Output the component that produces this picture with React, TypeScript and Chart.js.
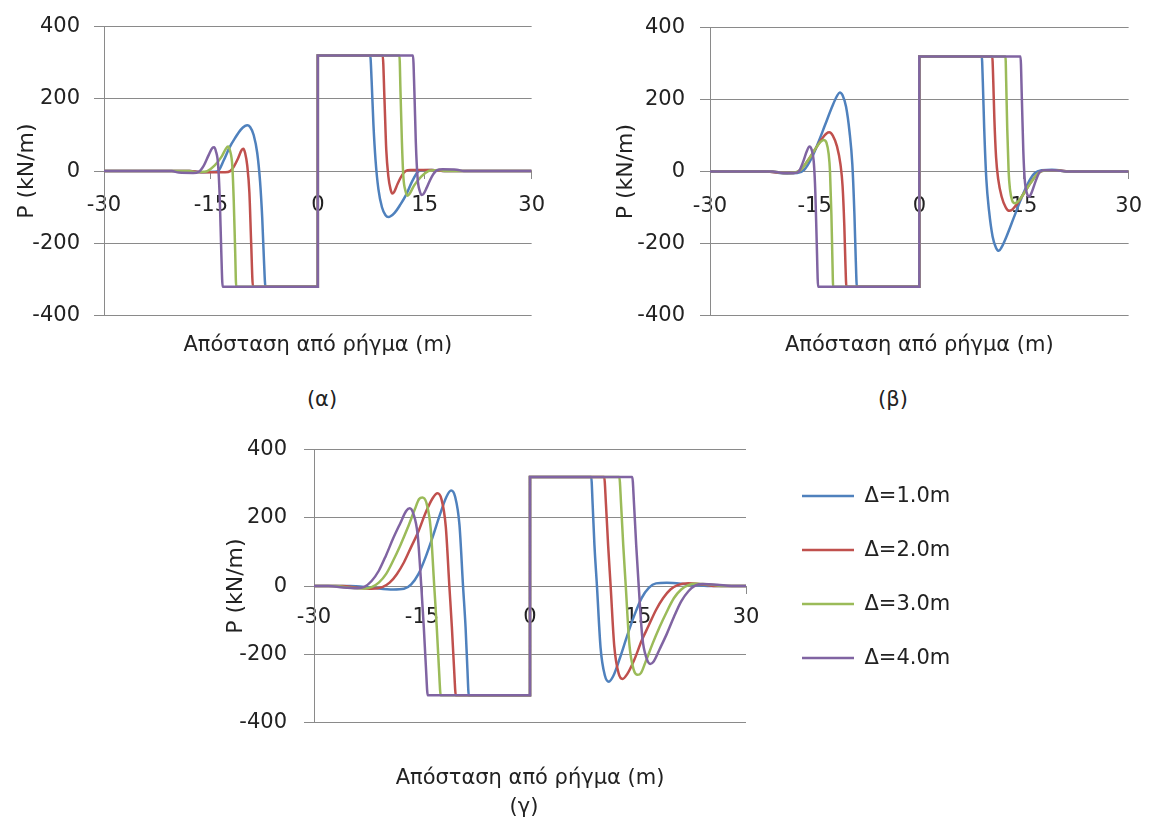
import React, { useEffect, useRef } from 'react';
import { Chart, registerables } from 'chart.js';

Chart.register(...registerables);
Chart.defaults.font.family = "'DejaVu Sans', sans-serif";
Chart.defaults.color = '#222';

type Pt = [number, number];

const seriesLabels = ['Δ=1.0m', 'Δ=2.0m', 'Δ=3.0m', 'Δ=4.0m'];
const seriesColors = ['#4F81BD', '#C0504D', '#9BBB59', '#8064A2'];
const xTicks = [-30, -15, 0, 15, 30];
const yTicks = [-400, -200, 0, 200, 400];
const xTitle = 'Απόσταση από ρήγμα (m)';
const yTitle = 'P (kN/m)';
const captions = ['(α)', '(β)', '(γ)'];

// ---- (α) ----
const a1: Pt[] = [[-30,0],[-18,0],[-16,-3],[-14.5,-2],[-14,0],[-13.2,30],[-12.4,65],[-11.6,92],[-10.8,115],[-10.2,125],[-9.9,127],[-9.5,122],[-9,100],[-8.5,50],[-8.1,-30],[-7.8,-130],[-7.55,-250],[-7.35,-320],[0,-320],[0,320],[7.35,320],[7.55,250],[7.8,130],[8.1,30],[8.5,-50],[9,-100],[9.5,-122],[9.9,-127],[10.2,-125],[10.8,-115],[11.6,-92],[12.4,-65],[13.2,-30],[14,-3],[14.5,2],[16,3],[18,0],[30,0]];
const a2: Pt[] = [[-30,0],[-18,0],[-16,-3],[-13,-3],[-12.3,0],[-11.8,12],[-11.2,35],[-10.7,58],[-10.45,62],[-10.2,50],[-9.9,15],[-9.6,-60],[-9.35,-200],[-9.1,-320],[0,-320],[0,320],[9.1,320],[9.35,200],[9.6,60],[9.9,-15],[10.2,-50],[10.45,-62],[10.7,-58],[11.2,-35],[11.8,-12],[12.3,0],[13,3],[16,3],[18,0],[30,0]];
const a3: Pt[] = [[-30,0],[-18,0],[-17,-3],[-16,-2],[-15.5,0],[-14.5,15],[-13.5,40],[-12.9,62],[-12.6,68],[-12.3,55],[-12,15],[-11.8,-80],[-11.6,-220],[-11.45,-320],[0,-320],[0,320],[11.45,320],[11.6,220],[11.8,80],[12,-15],[12.3,-55],[12.6,-68],[12.9,-62],[13.5,-40],[14.5,-15],[15.5,0],[16,2],[17,3],[18,0],[30,0]];
const a4: Pt[] = [[-30,0],[-20.5,0],[-19.5,-4],[-17.5,-5],[-16.7,-2],[-16,15],[-15.3,45],[-14.8,64],[-14.55,66],[-14.3,55],[-14,20],[-13.75,-80],[-13.55,-220],[-13.35,-320],[0,-320],[0,320],[13.35,320],[13.55,220],[13.75,80],[14,-20],[14.3,-55],[14.55,-66],[14.8,-64],[15.3,-45],[16,-15],[16.7,2],[17.5,5],[19.5,4],[20.5,0],[30,0]];

// ---- (β) ----
const b1: Pt[] = [[-30,0],[-22,0],[-19,-5],[-17.5,-4],[-16.5,5],[-15.5,35],[-14.5,80],[-13.5,130],[-12.5,180],[-11.8,210],[-11.4,220],[-11,212],[-10.5,180],[-10,110],[-9.6,20],[-9.3,-120],[-9.1,-250],[-8.95,-320],[0,-320],[0,320],[8.95,320],[9.1,250],[9.3,120],[9.6,-20],[10,-110],[10.5,-180],[11,-212],[11.4,-220],[11.8,-210],[12.5,-180],[13.5,-130],[14.5,-80],[15.5,-35],[16.5,-5],[17.5,4],[19,5],[22,0],[30,0]];
const b2: Pt[] = [[-30,0],[-22,0],[-19.5,-4],[-18,-4],[-17,5],[-16,30],[-15,60],[-14,90],[-13.3,106],[-12.9,109],[-12.4,100],[-11.8,70],[-11.3,20],[-11,-40],[-10.75,-150],[-10.6,-250],[-10.45,-320],[0,-320],[0,320],[10.45,320],[10.6,250],[10.75,150],[11,40],[11.3,-20],[11.8,-70],[12.4,-100],[12.9,-109],[13.3,-106],[14,-90],[15,-60],[16,-30],[17,-5],[18,4],[19.5,4],[22,0],[30,0]];
const b3: Pt[] = [[-30,0],[-21,0],[-19.5,-4],[-18,-3],[-17,5],[-16,30],[-15,60],[-14.2,82],[-13.7,88],[-13.3,80],[-13,50],[-12.8,0],[-12.6,-120],[-12.45,-250],[-12.35,-320],[0,-320],[0,320],[12.35,320],[12.45,250],[12.6,120],[12.8,0],[13,-50],[13.3,-80],[13.7,-88],[14.2,-82],[15,-60],[16,-30],[17,-5],[18,3],[19.5,4],[21,0],[30,0]];
const b4: Pt[] = [[-30,0],[-21,0],[-19.5,-4],[-18,-4],[-17.3,0],[-16.7,25],[-16.1,58],[-15.75,70],[-15.45,62],[-15.1,20],[-14.9,-60],[-14.7,-200],[-14.5,-320],[0,-320],[0,320],[14.5,320],[14.7,200],[14.9,60],[15.1,-20],[15.45,-62],[15.75,-70],[16.1,-58],[16.7,-25],[17.3,0],[18,4],[19.5,4],[21,0],[30,0]];

// ---- (γ) ----
const c1: Pt[] = [[-30,0],[-25,0],[-22,-5],[-19,-10],[-17.5,-8],[-16.5,5],[-15.5,35],[-14.5,85],[-13.5,145],[-12.5,210],[-11.6,262],[-10.95,280],[-10.4,262],[-9.8,180],[-9.3,0],[-8.95,-120],[-8.7,-240],[-8.5,-320],[0,-320],[0,320],[8.5,320],[8.7,240],[8.95,120],[9.3,0],[9.8,-180],[10.4,-262],[10.95,-280],[11.6,-262],[12.5,-210],[13.5,-145],[14.5,-85],[15.5,-35],[16.5,-5],[17.5,8],[19,10],[22,5],[25,0],[30,0]];
const c2: Pt[] = [[-30,0],[-26,0],[-24,-5],[-22,-8],[-20.5,-3],[-19.5,10],[-18.5,35],[-17.5,70],[-16.5,115],[-15.5,160],[-14.5,215],[-13.5,258],[-12.85,272],[-12.3,255],[-11.7,175],[-11.2,0],[-10.85,-120],[-10.55,-240],[-10.3,-320],[0,-320],[0,320],[10.3,320],[10.55,240],[10.85,120],[11.2,0],[11.7,-175],[12.3,-255],[12.85,-272],[13.5,-258],[14.5,-215],[15.5,-160],[16.5,-115],[17.5,-70],[18.5,-35],[19.5,-10],[20.5,3],[22,8],[24,5],[26,0],[30,0]];
const c3: Pt[] = [[-30,0],[-27,0],[-25,-5],[-23,-7],[-22,-3],[-21,10],[-20,35],[-19,75],[-18,120],[-17,170],[-16,225],[-15.4,255],[-14.95,260],[-14.4,245],[-13.8,170],[-13.3,0],[-12.95,-120],[-12.65,-240],[-12.4,-320],[0,-320],[0,320],[12.4,320],[12.65,240],[12.95,120],[13.3,0],[13.8,-170],[14.4,-245],[14.95,-260],[15.4,-255],[16,-225],[17,-170],[18,-120],[19,-75],[20,-35],[21,-10],[22,3],[23,7],[25,5],[27,0],[30,0]];
const c4: Pt[] = [[-30,0],[-28,0],[-26,-4],[-24,-6],[-23,-2],[-22,15],[-21,45],[-20,90],[-19,140],[-18,185],[-17.2,220],[-16.7,228],[-16.2,212],[-15.6,150],[-15.1,0],[-14.75,-120],[-14.45,-240],[-14.2,-320],[0,-320],[0,320],[14.2,320],[14.45,240],[14.75,120],[15.1,0],[15.6,-150],[16.2,-212],[16.7,-228],[17.2,-220],[18,-185],[19,-140],[20,-90],[21,-45],[22,-15],[23,2],[24,6],[26,4],[28,0],[30,0]];

const GRID = '#8a8a8a';

interface PanelSpec {
  left: number; top: number; width: number; height: number;
  series: Pt[][];
  yAxisWidth: number; yTitlePad: number; yTickPad: number;
  padTop: number; padRight: number; padBottom: number;
  xTickPad: number; xTitlePad: number; legend: boolean;
}

const panels: PanelSpec[] = [
  { left: 0, top: 0, width: 560, height: 370, series: [a1, a2, a3, a4], yAxisWidth: 104, yTitlePad: 13.8, yTickPad: 14, padTop: 22.7, padRight: 23, padBottom: 12.2, xTickPad: 15, xTitlePad: 17, legend: false },
  { left: 600, top: 0, width: 557, height: 370, series: [b1, b2, b3, b4], yAxisWidth: 110, yTitlePad: 12.8, yTickPad: 15, padTop: 22.7, padRight: 20, padBottom: 12.2, xTickPad: 15, xTitlePad: 17, legend: false },
  { left: 200, top: 420, width: 957, height: 398, series: [c1, c2, c3, c4], yAxisWidth: 114, yTitlePad: 22.8, yTickPad: 17, padTop: 22.7, padRight: 206, padBottom: 27.2, xTickPad: 12, xTitlePad: 43, legend: true },
];

const captionPos = [
  { x: 322, y: 399 },
  { x: 893, y: 399 },
  { x: 524, y: 806 },
];

function Panel({ spec }: { spec: PanelSpec }) {
  const ref = useRef<HTMLCanvasElement | null>(null);
  useEffect(() => {
    if (!ref.current) return;
    const scales: any = {
      x: {
        type: 'linear', position: { y: 0 }, min: -30, max: 30,
        afterBuildTicks: (s: any) => { s.ticks = xTicks.map((v) => ({ value: v })); },
        ticks: { padding: spec.xTickPad, font: { size: 21 }, color: '#222', maxRotation: 0, autoSkip: false },
        grid: { drawOnChartArea: false, drawTicks: true, tickLength: 7, color: GRID, lineWidth: 1 },
        border: { display: true, color: GRID, width: 1 },
      },
      y: {
        type: 'linear', position: 'left', min: -400, max: 400,
        afterBuildTicks: (s: any) => { s.ticks = yTicks.map((v) => ({ value: v })); },
        ticks: { padding: spec.yTickPad, font: { size: 21 }, color: '#222' },
        grid: { color: GRID, lineWidth: 1, drawTicks: true, tickLength: 10 },
        border: { display: true, color: GRID, width: 1 },
        title: { display: true, text: yTitle, font: { size: 22 }, color: '#222', padding: { top: spec.yTitlePad, bottom: 0 } },
        afterFit: (s: any) => { s.width = spec.yAxisWidth; },
      },
      xt: {
        type: 'linear', axis: 'x', position: 'bottom', display: true,
        ticks: { display: false },
        grid: { display: false, drawTicks: false },
        border: { display: false },
        title: { display: true, text: xTitle, font: { size: 21 }, color: '#222', padding: { top: spec.xTitlePad, bottom: 0 } },
      },
    };
    if (spec.legend) {
      scales.gap = {
        type: 'linear', axis: 'y', position: 'right', display: true,
        ticks: { display: false },
        grid: { display: false, drawTicks: false },
        border: { display: false },
        afterFit: (s: any) => { s.width = 23; },
      };
    }
    const chart = new Chart(ref.current, {
      type: 'scatter',
      data: {
        datasets: spec.series.map((pts, i) => ({
          label: seriesLabels[i],
          data: pts.map(([x, y]) => ({ x, y })),
          showLine: true,
          borderColor: seriesColors[i],
          backgroundColor: seriesColors[i],
          borderWidth: 2.5,
          pointRadius: 0,
          pointHoverRadius: 0,
          cubicInterpolationMode: 'monotone',
          fill: false,
          order: 4 - i,
        })),
      },
      options: {
        responsive: false,
        animation: false,
        events: [],
        layout: { autoPadding: false, padding: { left: 0, top: spec.padTop, right: spec.padRight, bottom: spec.padBottom } },
        scales,
        plugins: {
          tooltip: { enabled: false },
          legend: spec.legend ? {
            display: true, position: 'right', align: 'start', fullSize: false, maxWidth: 182,
            title: { display: true, text: ' ', font: { size: 3, lineHeight: 1 }, padding: 0 },
            labels: {
              usePointStyle: true, pointStyle: 'line', pointStyleWidth: 52, padding: 33,
              font: { size: 21 }, color: '#222',
              sort: (a: any, b: any) => a.datasetIndex - b.datasetIndex,
            },
          } : { display: false },
        },
      } as any,
    } as any);
    return () => chart.destroy();
  }, [spec]);
  return (
    <canvas
      ref={ref}
      width={spec.width}
      height={spec.height}
      style={{ position: 'absolute', left: spec.left, top: spec.top, width: spec.width, height: spec.height }}
    />
  );
}

export default function App() {
  return (
    <div style={{ position: 'absolute', left: 0, top: 0, width: 1157, height: 818, background: '#fff', overflow: 'hidden' }}>
      {panels.map((p, i) => <Panel key={i} spec={p} />)}
      {captions.map((c, i) => (
        <div key={c} style={{ position: 'absolute', left: captionPos[i].x, top: captionPos[i].y, transform: 'translate(-50%, -50%)', fontFamily: "'DejaVu Sans', sans-serif", fontSize: 21, color: '#222', whiteSpace: 'nowrap' }}>{c}</div>
      ))}
    </div>
  );
}
